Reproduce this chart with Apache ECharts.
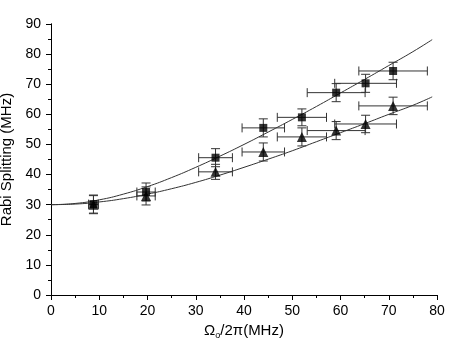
<!DOCTYPE html>
<html><head><meta charset="utf-8">
<script src="https://cdn.jsdelivr.net/npm/echarts@6/dist/echarts.min.js"></script>
<style>html,body{margin:0;padding:0;background:#fff}#c{width:463px;height:354px}</style>
</head><body><div id="c"></div>
<script>
// Measured data
const xVals   = [8.8, 19.7, 34.1, 44.0, 52.0, 59.1, 65.2, 70.9];
const xErr    = [1.0, 1.9, 3.5, 4.4, 5.1, 6.0, 6.4, 7.1];
const sqVals  = [30.2, 34.2, 45.6, 55.5, 59.0, 67.2, 70.3, 74.4];
const sqErr   = [3.0, 3.0, 3.0, 3.0, 2.8, 3.0, 3.0, 2.9];
const triVals = [30.0, 32.9, 40.9, 47.5, 52.5, 54.6, 56.8, 62.8];
const triErr  = [3.0, 3.0, 2.5, 3.0, 3.0, 3.0, 2.9, 2.9];
// Fit curves
const fitX     = [0, 5, 10, 15, 20, 25, 30, 35, 40, 45, 50, 55, 60, 65, 70, 75, 79];
const fitUpper = [30.0, 30.4, 31.6, 33.5, 36.0, 39.0, 42.4, 46.1, 50.0, 54.1, 58.3, 62.6, 67.1, 71.6, 76.2, 80.8, 84.8];
const fitLower = [30.0, 30.2, 30.9, 32.0, 33.5, 35.3, 37.4, 39.8, 42.4, 45.1, 47.9, 50.9, 53.9, 56.9, 60.0, 63.0, 65.8];
const xTicks = [0, 10, 20, 30, 40, 50, 60, 70, 80];
const yTicks = [0, 10, 20, 30, 40, 50, 60, 70, 80, 90];

const zip = (a, b) => a.map((v, i) => [v, b[i]]);
const errData = (ys, yes) => xVals.map((x, i) => [x, ys[i], xErr[i], yes[i]]);

function renderErr(params, api) {
  const x = api.value(0), y = api.value(1), xe = api.value(2), ye = api.value(3);
  const l = api.coord([x - xe, y]), r = api.coord([x + xe, y]);
  const t = api.coord([x, y + ye]), b = api.coord([x, y - ye]);
  const cap = 4.5;
  const st = { stroke: '#333', lineWidth: 1 };
  const ln = (x1, y1, x2, y2) => ({ type: 'line', shape: { x1, y1, x2, y2 }, style: st });
  return { type: 'group', children: [
    ln(l[0], l[1], r[0], r[1]),
    ln(l[0], l[1] - cap, l[0], l[1] + cap),
    ln(r[0], r[1] - cap, r[0], r[1] + cap),
    ln(t[0], t[1], b[0], b[1]),
    ln(t[0] - cap, t[1], t[0] + cap, t[1]),
    ln(b[0] - cap, b[1], b[0] + cap, b[1])
  ]};
}

const font = 'Liberation Sans, Arial, Helvetica, sans-serif';
const axisCommon = {
  type: 'value',
  axisLine: { show: true, lineStyle: { color: '#000', width: 1 } },
  splitLine: { show: false },
  minorSplitLine: { show: false }
};

const chart = echarts.init(document.getElementById('c'), null, { renderer: 'canvas' });
chart.setOption({
  animation: false,
  backgroundColor: '#fff',
  grid: { left: 51, top: 24, width: 386, height: 271, containLabel: false, outerBoundsMode: 'none' },
  xAxis: [
    Object.assign({}, axisCommon, {
      min: xTicks[0], max: xTicks[xTicks.length - 1], interval: 10, position: 'bottom',
      axisTick: { show: true, inside: false, length: 5, lineStyle: { color: '#000' } },
      minorTick: { show: true, splitNumber: 2, length: 3, lineStyle: { color: '#000' } },
      axisLabel: { color: '#000', fontSize: 14, fontFamily: font, margin: 9 },
      name: '{a|Ω}{s|o}{a|/2π(MHz)}',
      nameLocation: 'middle', nameGap: 26,
      nameTextStyle: { color: '#000', fontFamily: font,
        rich: { a: { fontSize: 15, fontFamily: font, color: '#000', lineHeight: 19 },
                s: { fontSize: 9, fontFamily: font, color: '#000', lineHeight: 9, verticalAlign: 'bottom' } } }
    }),
    Object.assign({}, axisCommon, {
      min: xTicks[0], max: xTicks[xTicks.length - 1], interval: 10, position: 'top',
      axisTick: { show: true, inside: true, length: 5, lineStyle: { color: '#000' } },
      minorTick: { show: true, splitNumber: 2, length: 3, lineStyle: { color: '#000' } },
      axisLabel: { show: false }
    })
  ],
  yAxis: [
    Object.assign({}, axisCommon, {
      min: yTicks[0], max: yTicks[yTicks.length - 1], interval: 10, position: 'left',
      axisTick: { show: true, inside: false, length: 5, lineStyle: { color: '#000' } },
      minorTick: { show: true, splitNumber: 2, length: 3, lineStyle: { color: '#000' } },
      axisLabel: { color: '#000', fontSize: 14, fontFamily: font, margin: 10 },
      name: 'Rabi Splitting (MHz)', nameLocation: 'middle', nameGap: 34,
      nameTextStyle: { color: '#000', fontSize: 15, fontFamily: font }
    }),
    Object.assign({}, axisCommon, {
      min: yTicks[0], max: yTicks[yTicks.length - 1], interval: 10, position: 'right',
      axisTick: { show: true, inside: true, length: 5, lineStyle: { color: '#000' } },
      minorTick: { show: true, splitNumber: 2, length: 3, lineStyle: { color: '#000' } },
      axisLabel: { show: false }
    })
  ],
  series: [
    { type: 'line', data: zip(fitX, fitUpper), smooth: true, showSymbol: false, symbol: 'none',
      lineStyle: { color: '#333', width: 1 }, z: 1 },
    { type: 'line', data: zip(fitX, fitLower), smooth: true, showSymbol: false, symbol: 'none',
      lineStyle: { color: '#333', width: 1 }, z: 1 },
    { type: 'custom', renderItem: renderErr, data: errData(triVals, triErr), encode: { x: 0, y: 1 }, z: 2 },
    { type: 'custom', renderItem: renderErr, data: errData(sqVals, sqErr), encode: { x: 0, y: 1 }, z: 2 },
    { type: 'scatter', data: zip(xVals, triVals), symbol: 'triangle', symbolSize: 10,
      itemStyle: { color: '#000' }, z: 3 },
    { type: 'scatter', data: zip(xVals, sqVals), symbol: 'rect', symbolSize: 8,
      itemStyle: { color: '#000' }, z: 4 }
  ]
});
</script></body></html>
